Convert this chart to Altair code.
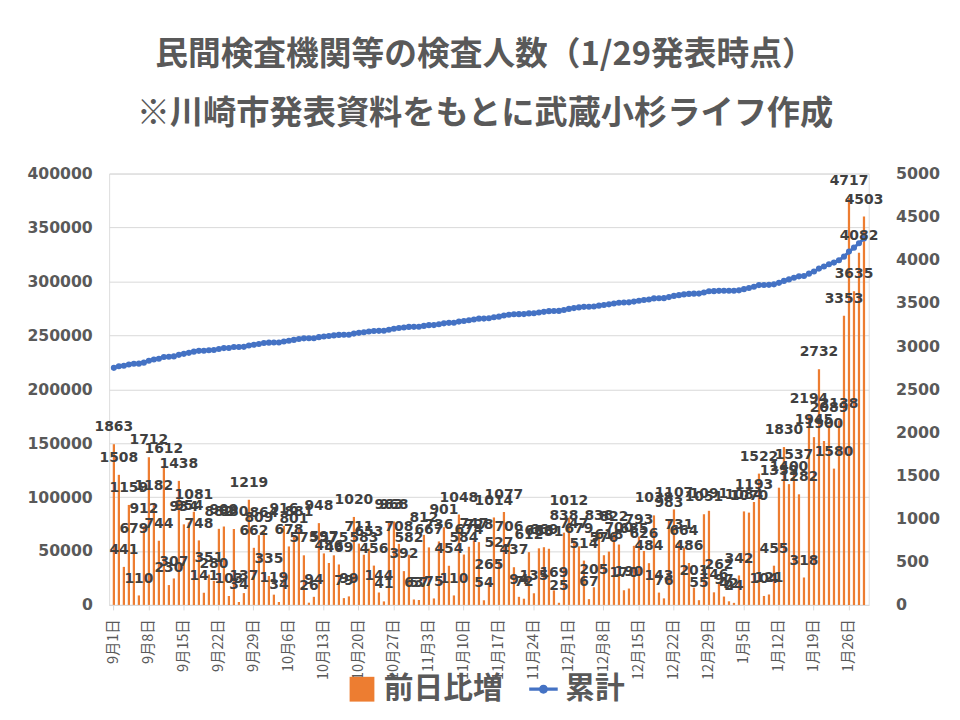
import altair as alt
import pandas as pd

# ---- data ----
start_date = "2020-09-01"
cumulative_base = 218000  # total before 9月1日
daily = [
    1863, 1508, 441, 1159, 679, 110, 912,          # 9/1 - 9/7
    1712, 1182, 744, 1612, 230, 307, 1438,         # 9/8 - 9/14
    934, 954, 1081, 748, 141, 351, 280,            # 9/15 - 9/21
    882, 909, 103, 880, 34, 137, 1219,             # 9/22 - 9/28
    662, 809, 864, 335, 119, 34, 916,              # 9/29 - 10/5
    678, 801, 881, 575, 26, 94, 948,               # 10/6 - 10/12
    597, 486, 575, 469, 79, 99, 1020,              # 10/13 - 10/19
    711, 583, 653, 456, 144, 41, 963,              # 10/20 - 10/26
    968, 708, 392, 582, 63, 57, 812,               # 10/27 - 11/2
    667, 75, 736, 901, 454, 110, 1048,             # 11/3 - 11/9
    584, 674, 747, 728, 54, 265, 1014,             # 11/10 - 11/16
    527, 1077, 706, 437, 94, 72, 612,              # 11/17 - 11/23
    135, 656, 669, 651, 169, 25, 838,              # 11/24 - 11/30
    1012, 747, 679, 514, 67, 205, 838,             # 12/1 - 12/7
    576, 618, 822, 700, 170, 190, 685,             # 12/8 - 12/14
    793, 626, 484, 1038, 143, 76, 983,             # 12/15 - 12/21
    1107, 731, 664, 486, 201, 55, 1051,            # 12/22 - 12/28
    1091, 146, 262, 97, 42, 24, 342,               # 12/29 - 1/4
    1084, 1070, 1193, 1522, 104, 121, 455,         # 1/5 - 1/11
    1359, 1830, 1400, 1537, 1282, 318, 2194,       # 1/12 - 1/18
    1945, 2732, 1900, 2089, 1580, 2138, 3353,      # 1/19 - 1/25
    4717, 3635, 4082, 4503,                        # 1/26 - 1/29
]
series_names = ["前日比増", "累計"]
series_colors = ["#ED7D31", "#4472C4"]
left_ticks = list(range(0, 400001, 50000))
right_ticks = list(range(0, 5001, 500))
title_text = "民間検査機関等の検査人数（1/29発表時点）\u3000"
subtitle_text = "※川崎市発表資料をもとに武蔵小杉ライフ作成"

dates = pd.date_range(start_date, periods=len(daily), freq="D")
labels = [f"{d.month}月{d.day}日" for d in dates]
tick_labels = labels[::7]

df = pd.DataFrame({"日付": labels, "前日比増": daily, "順": list(range(len(daily)))})

JP = "Noto Sans CJK JP"
NUM = "DejaVu Sans"
GRAY = "#595959"

line_dot = ("M-1.15,-0.13H1.15V0.13H-1.15Z "
            "M0.36,0A0.36,0.36 0 1 1 -0.36,0A0.36,0.36 0 1 1 0.36,0Z")

x_enc = alt.X(
    "日付:N",
    sort=labels,
    scale=alt.Scale(paddingInner=0.55, paddingOuter=0.72),
    axis=alt.Axis(
        values=tick_labels, labelAngle=270, labelFont=JP, labelFontSize=14.5,
        labelColor=GRAY, tickColor="#D9D9D9", domainColor="#D9D9D9",
        tickSize=5, labelPadding=9, grid=False, title="",
    ),
)

y_right = alt.Y(
    "前日比増:Q",
    scale=alt.Scale(domain=[0, 5000], nice=False),
    axis=alt.Axis(
        orient="right", values=right_ticks, grid=False, domain=False, ticks=False,
        labelFont=NUM, labelFontWeight="bold", labelFontSize=16,
        labelColor=GRAY, labelPadding=27, format="d", title="",
    ),
)

y_left = alt.Y(
    "累計:Q",
    scale=alt.Scale(domain=[0, 400000], nice=False),
    axis=alt.Axis(
        orient="left", values=left_ticks, grid=True, gridColor="#D9D9D9",
        domain=False, ticks=False, labelFont=NUM, labelFontWeight="bold",
        labelFontSize=15.8, labelColor=GRAY, labelPadding=17, format="d", title="",
    ),
)

base = alt.Chart(df)

bars = base.mark_bar(color=series_colors[0]).encode(x=x_enc, y=y_right)

cum = base.transform_window(
    累計増="sum(前日比増)", sort=[alt.SortField("順")], frame=[None, 0]
).transform_calculate(累計=f"datum.累計増 + {cumulative_base}")

line = cum.mark_line(color=series_colors[1], strokeWidth=3).encode(x=x_enc, y=y_left)
points = cum.mark_circle(color=series_colors[1], size=38, opacity=1).encode(x=x_enc, y=y_left)

legend_props = dict(
    orient="none", legendX=240, legendY=505, direction="horizontal",
    labelFont=JP, labelFontSize=30, labelFontWeight="bold", labelColor=GRAY,
    symbolSize=625, columnPadding=26, labelOffset=7, title=None,
)
legend_layer = base.transform_filter("false").mark_point(filled=True, opacity=1).encode(
    color=alt.Color("系列:N", scale=alt.Scale(domain=series_names, range=series_colors),
                    legend=alt.Legend(**legend_props)),
    shape=alt.Shape("系列:N", scale=alt.Scale(domain=series_names, range=["square", line_dot]),
                    legend=alt.Legend(**legend_props)),
)

texts = base.mark_text(
    font=NUM, fontWeight="bold", fontSize=14, color="#404040",
    dy=-17, baseline="middle", align="center",
).encode(
    x=x_enc,
    y=alt.Y("前日比増:Q", scale=alt.Scale(domain=[0, 5000], nice=False), axis=None),
    text=alt.Text("前日比増:Q", format="d"),
)

chart = alt.layer(
    bars,
    alt.layer(line, points, legend_layer),
    texts,
).resolve_scale(y="independent").properties(
    width=766,
    height=435,
    padding={"left": 102, "top": 164, "right": 84, "bottom": 105},
    autosize=alt.AutoSizeParams(type="none"),
    title=alt.TitleParams(
        text=title_text,
        subtitle=subtitle_text,
        font=JP, fontSize=33, fontWeight="bold", color=GRAY,
        subtitleFont=JP, subtitleFontSize=33.5, subtitleFontWeight="bold",
        subtitleColor=GRAY, subtitlePadding=26, anchor="middle", offset=36, dx=-4,
    ),
).configure_view(strokeOpacity=0).configure(background="white")

chart.save("out.html", embed_options={"renderer": "svg", "actions": False})
